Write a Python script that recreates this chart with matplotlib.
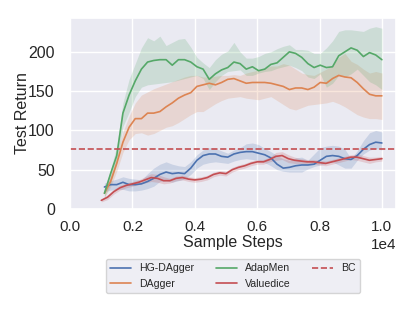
import numpy as np
import matplotlib
matplotlib.use("Agg")
import matplotlib.pyplot as plt
import seaborn as sns

# sample steps (x axis)
steps = np.linspace(1100, 10000, 46)
steps_vd = np.linspace(1000, 10000, 46)

# AdapMen
adapmen = [20, 45, 68, 122, 145, 163, 178, 187, 189, 190, 190, 183, 190, 190, 187, 181,
           178, 165, 172, 177, 180, 187, 185, 178, 181, 176, 178, 184, 186, 193, 200, 198,
           193, 185, 180, 183, 180, 181, 195, 200, 205, 202, 194, 199, 196, 190]
adapmen_hi = [26, 50, 80, 135, 165, 185, 205, 218, 214, 220, 208, 212, 216, 217, 206, 193,
              186, 180, 190, 197, 201, 212, 200, 192, 192, 194, 198, 200, 204, 207, 209, 203,
              203, 202, 198, 198, 205, 214, 226, 228, 228, 227, 226, 230, 232, 230]
adapmen_lo = [15, 32, 58, 105, 123, 143, 155, 158, 159, 160, 161, 162, 164, 166, 168, 170,
              166, 152, 162, 170, 175, 176, 177, 170, 170, 173, 175, 176, 179, 181, 183, 180,
              176, 168, 166, 172, 155, 160, 170, 168, 172, 178, 170, 162, 158, 152]

# DAgger
dagger = [20, 35, 58, 85, 104, 115, 115, 122, 122, 124, 130, 135, 141, 145, 148, 156,
          158, 160, 158, 161, 165, 166, 163, 160, 161, 161, 161, 160, 158, 156, 152, 154,
          154, 152, 155, 161, 160, 166, 170, 168, 167, 161, 153, 146, 144, 144]
dagger_hi = [25, 42, 68, 98, 118, 135, 145, 149, 153, 156, 159, 162, 165, 168, 170, 170,
             168, 168, 169, 170, 170, 171, 170, 173, 175, 177, 179, 182, 182, 185, 183, 178,
             173, 171, 170, 174, 178, 183, 193, 198, 188, 184, 178, 173, 175, 173]
dagger_lo = [15, 28, 48, 72, 88, 96, 97, 94, 96, 100, 104, 106, 110, 115, 120, 124,
             124, 129, 134, 138, 141, 142, 143, 141, 140, 139, 141, 143, 138, 133, 128, 126,
             129, 132, 133, 134, 135, 137, 134, 130, 125, 120, 117, 115, 115, 114]

# HG-DAgger
hg = [28, 31, 31, 34, 31, 31, 32, 35, 39, 44, 47, 45, 46, 45, 52, 62,
      68, 70, 70, 67, 66, 70, 72, 73, 73, 71, 69, 65, 57, 52, 53, 55,
      56, 56, 57, 62, 67, 68, 67, 64, 63, 68, 76, 82, 85, 84]
hg_hi = [33, 36, 38, 41, 39, 38, 37, 45, 52, 57, 60, 57, 55, 54, 60, 69,
         75, 78, 77, 74, 71, 75, 78, 83, 84, 82, 77, 73, 68, 64, 62, 65,
         66, 62, 70, 78, 80, 81, 80, 76, 64, 74, 87, 97, 100, 98]
hg_lo = [22, 24, 25, 25, 23, 23, 24, 26, 29, 35, 36, 34, 36, 38, 44, 52,
         57, 59, 60, 59, 58, 61, 63, 64, 63, 62, 59, 55, 50, 48, 47, 47,
         47, 51, 54, 56, 58, 60, 56, 52, 52, 62, 70, 75, 77, 75]

# Valuedice
vd = [11, 15, 22, 27, 30, 32, 34, 37, 40, 39, 36, 36, 39, 40, 38, 37,
      38, 40, 44, 46, 45, 50, 53, 55, 58, 60, 60, 63, 67, 68, 64, 62,
      61, 60, 60, 59, 58, 60, 62, 64, 66, 66, 64, 62, 63, 64]
vd_hi = [13, 18, 25, 30, 33, 35, 37, 41, 45, 44, 41, 39, 42, 43, 41, 40,
         41, 43, 47, 49, 48, 53, 56, 58, 61, 63, 63, 66, 72, 73, 69, 66,
         64, 63, 63, 62, 61, 63, 65, 67, 69, 70, 68, 66, 66, 67]
vd_lo = [9, 12, 19, 24, 27, 29, 31, 33, 35, 34, 32, 33, 36, 37, 35, 34,
         35, 37, 41, 43, 42, 47, 50, 52, 55, 57, 57, 60, 62, 63, 59, 58,
         58, 57, 57, 56, 55, 57, 59, 61, 63, 62, 60, 58, 60, 61]

bc_value = 76

sns.set_theme(style="darkgrid")
plt.rcParams['font.family'] = ['Liberation Sans', 'DejaVu Sans']

colors = sns.color_palette("deep")
blue, orange, green, red = colors[0], colors[1], colors[2], colors[3]

fig = plt.figure(figsize=(4.15, 3.11), dpi=100)
ax = fig.add_axes([0.169, 0.328, 0.785, 0.614])

ax.plot(steps, hg, color=blue, lw=1.2, label='HG-DAgger')
ax.fill_between(steps, hg_lo, hg_hi, color=blue, alpha=0.2, lw=0)
ax.plot(steps, dagger, color=orange, lw=1.2, label='DAgger')
ax.fill_between(steps, dagger_lo, dagger_hi, color=orange, alpha=0.2, lw=0)
ax.plot(steps, adapmen, color=green, lw=1.2, label='AdapMen')
ax.fill_between(steps, adapmen_lo, adapmen_hi, color=green, alpha=0.2, lw=0)
ax.plot(steps_vd, vd, color=red, lw=1.2, label='Valuedice')
ax.fill_between(steps_vd, vd_lo, vd_hi, color=red, alpha=0.2, lw=0)
ax.axhline(bc_value, color=red, ls='--', lw=1.2, label='BC')

ax.set_xlim(0, 10450)
ax.set_ylim(0, 243)
ax.ticklabel_format(axis='x', style='sci', scilimits=(0, 0))
ax.tick_params(labelsize=11, pad=2)
ax.tick_params(axis='y', labelsize=11.5, pad=5)
ax.xaxis.get_offset_text().set_fontsize(11)
ax.set_xlabel('Sample Steps', fontsize=11.5, labelpad=1)
ax.set_ylabel('Test Return', fontsize=11.5)
ax.yaxis.set_label_coords(-0.123, 0.5)

ax.legend(loc='upper center', bbox_to_anchor=(0.5, -0.262), borderaxespad=0,
          ncol=3, fontsize=7.6, columnspacing=2.0)

plt.savefig('out.png', dpi=100)
